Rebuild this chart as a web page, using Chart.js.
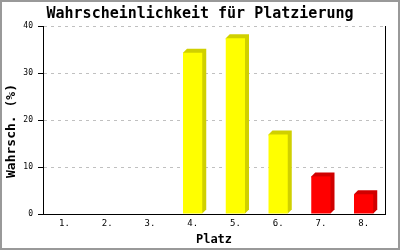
<!DOCTYPE html>
<html>
<head>
<meta charset="utf-8">
<script src="https://cdn.jsdelivr.net/npm/chart.js@4"></script>
<style>
  body { margin: 0; background: #fff; }
  #box { width: 400px; height: 250px; position: relative; }
</style>
</head>
<body>
<div id="box"><canvas id="placeChart"></canvas></div>
<script>
const places = ['1.', '2.', '3.', '4.', '5.', '6.', '7.', '8.'];
const chances = [0, 0, 0, 34.3, 37.4, 16.9, 8.0, 4.2];
const barColors = ['#FFFF00', '#FFFF00', '#FFFF00', '#FFFF00', '#FFFF00', '#FFFF00', '#FF0000', '#FF0000'];
const sideColors = ['#D0D000', '#D0D000', '#D0D000', '#D0D000', '#D0D000', '#D0D000', '#D00000', '#D00000'];
const yTicks = [0, 10, 20, 30, 40];
const yTitle = 'Wahrsch. (%)';

const mono = 'DejaVu Sans Mono';
const depth = 4;

// darker side + top face behind every bar, y title, outer frame
const bar3d = {
  id: 'bar3d',
  beforeDatasetsDraw(chart) {
    const c = chart.ctx;
    const meta = chart.getDatasetMeta(0);
    meta.data.forEach((bar, i) => {
      if (!chances[i]) return;
      const l = bar.x - bar.width / 2, r = bar.x + bar.width / 2;
      const t = bar.y, b = bar.base;
      c.save();
      c.fillStyle = sideColors[i];
      c.beginPath();
      c.moveTo(l, t);
      c.lineTo(l + depth, t - depth);
      c.lineTo(r + depth, t - depth);
      c.lineTo(r + depth, b - depth);
      c.lineTo(r, b);
      c.closePath();
      c.fill();
      c.restore();
    });
  },
  afterDraw(chart) {
    const c = chart.ctx;
    c.save();
    c.translate(12, 131);
    c.rotate(-Math.PI / 2);
    c.font = 'bold 13px "' + mono + '"';
    c.fillStyle = '#000';
    c.textAlign = 'center';
    c.textBaseline = 'middle';
    c.fillText(yTitle, 0, 0);
    c.restore();

    c.save();
    c.strokeStyle = '#999';
    c.lineWidth = 2;
    c.strokeRect(1, 1, chart.width - 2, chart.height - 2);
    c.restore();
  }
};

new Chart(document.getElementById('placeChart'), {
  type: 'bar',
  data: {
    labels: places,
    datasets: [{
      data: chances,
      backgroundColor: barColors,
      borderWidth: 0,
      categoryPercentage: 1,
      barPercentage: 0.45
    }]
  },
  options: {
    responsive: true,
    maintainAspectRatio: false,
    animation: false,
    layout: { padding: 0 },
    plugins: {
      legend: { display: false },
      tooltip: { enabled: false },
      title: {
        display: true,
        text: 'Wahrscheinlichkeit für Platzierung',
        color: '#000',
        font: { family: mono, size: 15, weight: 'bold' },
        padding: { top: 5, bottom: 3 }
      }
    },
    scales: {
      x: {
        grid: { display: false, drawTicks: false },
        border: { color: '#000', width: 1 },
        ticks: { color: '#000', font: { family: mono, size: 9 }, padding: 4 },
        title: {
          display: true,
          text: 'Platz',
          color: '#000',
          font: { family: mono, size: 12, weight: 'bold' },
          padding: { top: 4, bottom: 3 }
        },
        afterFit: s => { s.height = 36; }
      },
      y: {
        min: 0,
        max: 40,
        afterBuildTicks: s => { s.ticks = yTicks.map(v => ({ value: v })); },
        grid: {
          color: ctx => ctx.tick.value === 0 ? 'rgba(0,0,0,0)' : '#c0c0c0',
          tickColor: '#000',
          tickLength: 5
        },
        border: { color: '#000', width: 1, dash: [3, 4] },
        ticks: { color: '#000', font: { family: mono, size: 8 }, padding: 5 },
        afterFit: s => { s.width = 43; }
      },
      y2: {
        position: 'right',
        min: 0,
        max: 40,
        grid: { display: false },
        ticks: { display: false },
        border: { color: '#000', width: 1 },
        afterFit: s => { s.width = 15; }
      }
    }
  },
  plugins: [bar3d]
});
</script>
</body>
</html>
